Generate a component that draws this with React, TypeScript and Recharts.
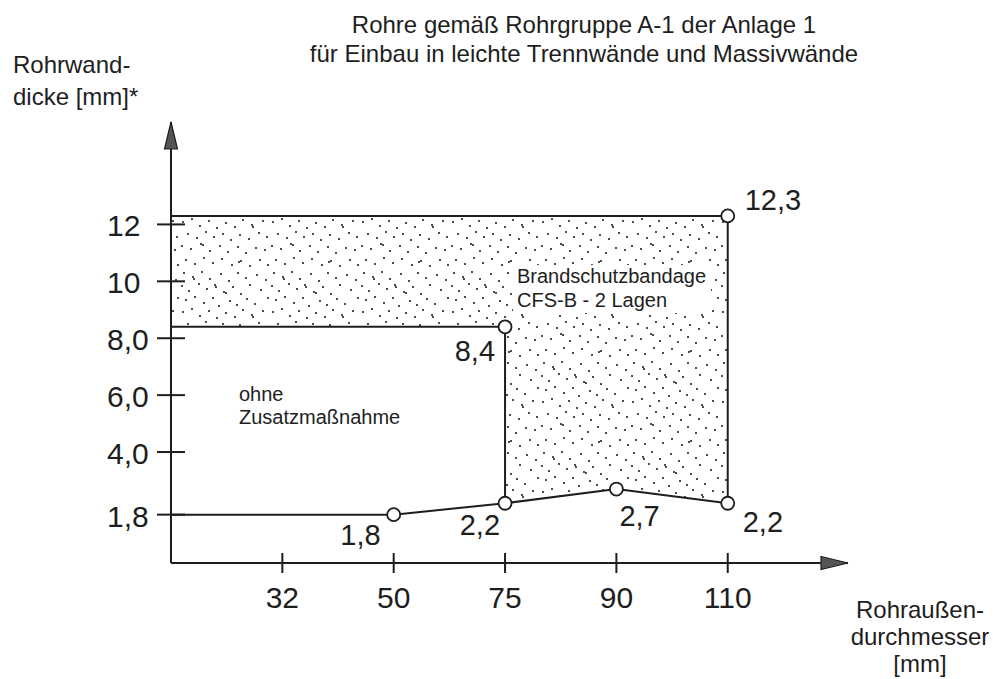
import { ComposedChart, Line, Area, XAxis, YAxis } from 'recharts'

// x axis: categories are drawn at equal spacing (position 1..5), y axis sits at 0
const xTickPos = [1, 2, 3, 4, 5]
const xTickLabels = ['32', '50', '75', '90', '110']
const yTicks = [1.8, 4, 6, 8, 10, 12]

// minimum wall thickness (lower boundary)
const minWallPos = [0, 2, 3, 4, 5]
const minWall = [1.8, 1.8, 2.2, 2.7, 2.2]
const minWallMarked = [false, true, true, true, true]

// "ohne Zusatzmaßnahme" upper limit, up to 75
const plainPos = [0, 3, 3]
const plainMax = [8.4, 8.4, 2.2]
const plainMarked = [false, true, false]

// with Brandschutzbandage, up to 110
const bandagePos = [0, 5, 5]
const bandageMax = [12.3, 12.3, 2.2]
const bandageMarked = [false, true, false]

// stippled area
const stipplePos = [0, 3, 3, 4, 5]
const stippleLow = [8.4, 8.4, 2.2, 2.7, 2.2]
const stippleHigh = [12.3, 12.3, 12.3, 12.3, 12.3]

const INK = '#1e1e1e'
const FONT = '"Liberation Sans", Arial, sans-serif'

const fmt = (v: number) => String(v).replace('.', ',')

const toPoints = (pos: number[], vals: number[]) => pos.map((x, i) => ({ x, y: vals[i] }))

const minWallData = toPoints(minWallPos, minWall)
const plainData = toPoints(plainPos, plainMax)
const bandageData = toPoints(bandagePos, bandageMax)
const stippleData = stipplePos.map((x, i) => ({ x, range: [stippleLow[i], stippleHigh[i]] }))

// dot label placement [dx, dy, anchor]
type Off = [number, number, 'start' | 'end']
const minWallOffsets: Record<number, Off> = {
    1: [-13, 30, 'end'],
    2: [-5, 32, 'end'],
    3: [3, 37, 'start'],
    4: [15, 29, 'start'],
}
const plainOffsets: Record<number, Off> = { 1: [-10, 34, 'end'] }
const bandageOffsets: Record<number, Off> = { 1: [17, -6, 'start'] }

// dots for the stipple tile (90x90)
const STIPPLE_DOTS = [
    [4, 3], [13, 7], [14, 9], [22, 2], [30, 9], [41, 4], [49, 11], [58, 3], [66, 8], [77, 5], [86, 10],
    [2, 16], [9, 21], [19, 14], [27, 19], [35, 15], [36, 17], [44, 22], [46, 23], [53, 17], [61, 24], [70, 15], [81, 20],
    [6, 30], [15, 27], [24, 33], [33, 28], [39, 36], [50, 31], [57, 35], [67, 29], [75, 34], [88, 28],
    [3, 42], [12, 39], [20, 46], [29, 41], [37, 48], [46, 43], [55, 47], [63, 40], [72, 45], [73, 47], [83, 41],
    [8, 54], [17, 58], [26, 52], [34, 57], [43, 54], [51, 60], [60, 55], [69, 59], [79, 53], [87, 57],
    [2, 66], [11, 69], [21, 64], [23, 65], [30, 71], [40, 66], [48, 72], [58, 67], [66, 73], [76, 68], [85, 70],
    [6, 80], [15, 84], [24, 78], [33, 83], [42, 79], [52, 85], [59, 82], [61, 81], [70, 86], [80, 80], [88, 85],
]

const makeDot = (marked: boolean[], offsets: Record<number, Off>) => (props: any) => {
    const { cx, cy, index, value } = props
    if (!marked[index]) return <g key={`n-${index}`} />
    const [dx, dy, anchor] = offsets[index]
    return (
        <g key={`d-${index}`}>
            <circle cx={cx} cy={cy} r={6.5} fill="#fff" stroke={INK} strokeWidth={1.8} />
            <text x={cx + dx} y={cy + dy} textAnchor={anchor} fontSize={29} fill={INK} fontFamily={FONT}>
                {fmt(value)}
            </text>
        </g>
    )
}

const XTick = (props: any) => {
    const { x, y, payload } = props
    const label = xTickLabels[xTickPos.indexOf(payload.value)]
    return (
        <g>
            <line x1={x} x2={x} y1={y - 10} y2={y + 10} stroke={INK} strokeWidth={2} />
            <text x={x} y={y + 45} textAnchor="middle" fontSize={30} fill={INK} fontFamily={FONT}>
                {label}
            </text>
        </g>
    )
}

const YTick = (props: any) => {
    const { x, y, payload } = props
    const v = payload.value as number
    return (
        <g>
            <line x1={x - 14} x2={x + 14} y1={y} y2={y} stroke={INK} strokeWidth={2} />
            <text x={x - 64} y={y + 12} textAnchor="start" fontSize={30} fill={INK} fontFamily={FONT}>
                {v >= 10 ? String(v) : v.toFixed(1).replace('.', ',')}
            </text>
        </g>
    )
}

export default function App() {
    return (
        <div style={{ position: 'absolute', left: 0, top: 0, width: 995, height: 679, background: '#fff', fontFamily: FONT }}>
            <ComposedChart width={995} height={679} margin={{ top: 122, right: 147, bottom: 56, left: 0 }}>
                <defs>
                    <pattern id="stipple" width={90} height={90} patternUnits="userSpaceOnUse">
                        {STIPPLE_DOTS.map(([px, py], i) => (
                            <circle key={i} cx={px} cy={py} r={1} fill="#111" />
                        ))}
                    </pattern>
                    <marker
                        id="arrowHead"
                        markerUnits="userSpaceOnUse"
                        markerWidth={30}
                        markerHeight={16}
                        viewBox="0 0 30 16"
                        refX={28}
                        refY={8}
                        orient="auto-start-reverse"
                    >
                        <path d="M1,1.5 L28,8 L1,14.5 Z" fill="#555" stroke={INK} strokeWidth={1.2} />
                    </marker>
                </defs>

                <XAxis
                    type="number"
                    dataKey="x"
                    domain={[0, 6.08]}
                    ticks={xTickPos}
                    interval={0}
                    allowDataOverflow
                    height={60}
                    tickSize={0}
                    tickMargin={0}
                    tickLine={false}
                    tick={XTick}
                    axisLine={{ stroke: INK, strokeWidth: 2, markerEnd: 'url(#arrowHead)' }}
                />
                <YAxis
                    type="number"
                    dataKey="y"
                    domain={[0.1, 15.6]}
                    ticks={yTicks}
                    interval={0}
                    allowDataOverflow
                    width={171}
                    tickSize={0}
                    tickMargin={0}
                    tickLine={false}
                    tick={YTick}
                    axisLine={{ stroke: INK, strokeWidth: 2, markerStart: 'url(#arrowHead)' }}
                />

                <Area
                    data={stippleData}
                    dataKey="range"
                    type="linear"
                    fill="url(#stipple)"
                    fillOpacity={1}
                    stroke="none"
                    isAnimationActive={false}
                />
                <Line
                    data={bandageData}
                    dataKey="y"
                    type="linear"
                    stroke={INK}
                    strokeWidth={2}
                    dot={makeDot(bandageMarked, bandageOffsets)}
                    activeDot={false}
                    isAnimationActive={false}
                />
                <Line
                    data={plainData}
                    dataKey="y"
                    type="linear"
                    stroke={INK}
                    strokeWidth={2}
                    dot={makeDot(plainMarked, plainOffsets)}
                    activeDot={false}
                    isAnimationActive={false}
                />
                <Line
                    data={minWallData}
                    dataKey="y"
                    type="linear"
                    stroke={INK}
                    strokeWidth={2}
                    dot={makeDot(minWallMarked, minWallOffsets)}
                    activeDot={false}
                    isAnimationActive={false}
                />

                <text x={584} y={33} textAnchor="middle" fontSize={24} fill={INK} fontFamily={FONT}>
                    Rohre gemäß Rohrgruppe A-1 der Anlage 1
                </text>
                <text x={584} y={62} textAnchor="middle" fontSize={24} fill={INK} fontFamily={FONT}>
                    für Einbau in leichte Trennwände und Massivwände
                </text>
                <text x={13} y={73} fontSize={24} fill={INK} fontFamily={FONT}>
                    Rohrwand-
                </text>
                <text x={13} y={105} fontSize={24} fill={INK} fontFamily={FONT}>
                    dicke [mm]*
                </text>
                <text textAnchor="middle" fontSize={24} fill={INK} fontFamily={FONT}>
                    <tspan x={920} y={618}>Rohraußen-</tspan>
                    <tspan x={920} y={645}>durchmesser</tspan>
                    <tspan x={920} y={672}>[mm]</tspan>
                </text>
                <text fontSize={20} fill={INK} fontFamily={FONT}>
                    <tspan x={239} y={401}>ohne</tspan>
                    <tspan x={239} y={424}>Zusatzmaßnahme</tspan>
                </text>
            </ComposedChart>
            {/* label inside the stippled area sits on a clear patch */}
            <svg
                width={995}
                height={679}
                style={{ position: 'absolute', left: 0, top: 0, pointerEvents: 'none' }}
            >
                <rect x={513} y={265} width={198} height={48} fill="#fff" />
                <text fontSize={20} fill={INK} fontFamily={FONT}>
                    <tspan x={517} y={283}>Brandschutzbandage</tspan>
                    <tspan x={517} y={307}>CFS-B - 2 Lagen</tspan>
                </text>
            </svg>
        </div>
    )
}
